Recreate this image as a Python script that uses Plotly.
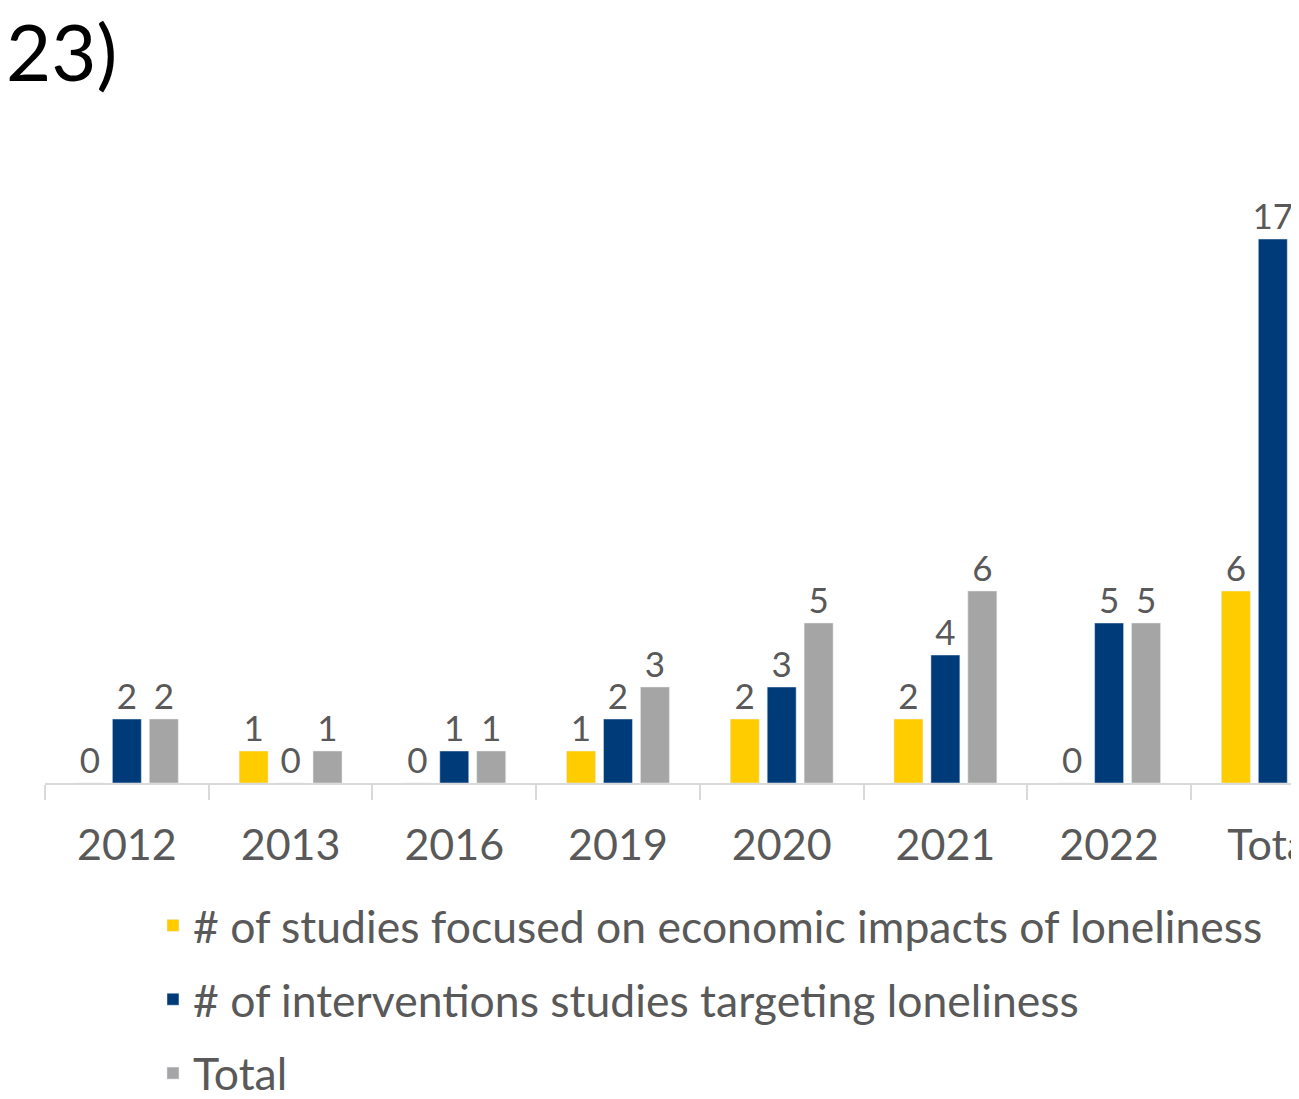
import plotly.graph_objects as go

categories = ["2012", "2013", "2016", "2019", "2020", "2021", "2022", "Total"]
economic = [0, 1, 0, 1, 2, 2, 0, 6]
interventions = [2, 0, 1, 2, 3, 4, 5, 17]
total = [2, 1, 1, 3, 5, 6, 5, 23]

series = [
    ("# of studies focused on economic impacts of loneliness", economic, "#FFCC00"),
    ("# of interventions studies targeting loneliness", interventions, "#003B79"),
    ("Total", total, "#A5A5A5"),
]

FONT = "Lato, 'Open Sans', sans-serif"
GREY_TXT = "#595959"

fig = go.Figure()
for i, (name, vals, color) in enumerate(series):
    fig.add_trace(go.Bar(
        x=categories, y=vals, name=name, marker_color=color,
        text=vals, textposition="outside", cliponaxis=False, constraintext="none",
        textfont=dict(size=35, color=GREY_TXT, family=FONT),
        legendgroup=f"g{i}",
    ))

# page body has an 8px margin, so the figure is 8px smaller each way
fig.update_layout(
    width=1291, height=1091,
    margin=dict(l=37, r=0, t=0, b=316, autoexpand=False),
    plot_bgcolor="white", paper_bgcolor="white",
    barmode="group", bargap=0.323, bargroupgap=0.216,
    font=dict(family=FONT, color=GREY_TXT),
    showlegend=True,
    legend=dict(
        orientation="v", x=0.0861, y=-0.138, xanchor="left", yanchor="top",
        font=dict(size=44.5, color=GREY_TXT, family=FONT),
        tracegroupgap=13, traceorder="grouped",
    ),
)

fig.update_xaxes(
    type="category", range=[-0.5, 7.16], automargin=False,
    showline=True, linecolor="#D9D9D9", linewidth=1.5,
    ticks="outside", tickson="boundaries", ticklen=15, tickcolor="#D9D9D9", tickwidth=1.5,
    tickfont=dict(size=43, color=GREY_TXT, family=FONT), ticklabelstandoff=24,
    showgrid=False, fixedrange=True,
)
fig.update_yaxes(range=[0, 24.22], visible=False, showgrid=False, fixedrange=True, automargin=False)

fig.add_annotation(
    text="23)", xref="paper", yref="paper", x=-0.033, y=1.0, yshift=6,
    xanchor="left", yanchor="top", showarrow=False,
    font=dict(size=78, color="black", family=FONT),
)

fig.write_html("out.html")
